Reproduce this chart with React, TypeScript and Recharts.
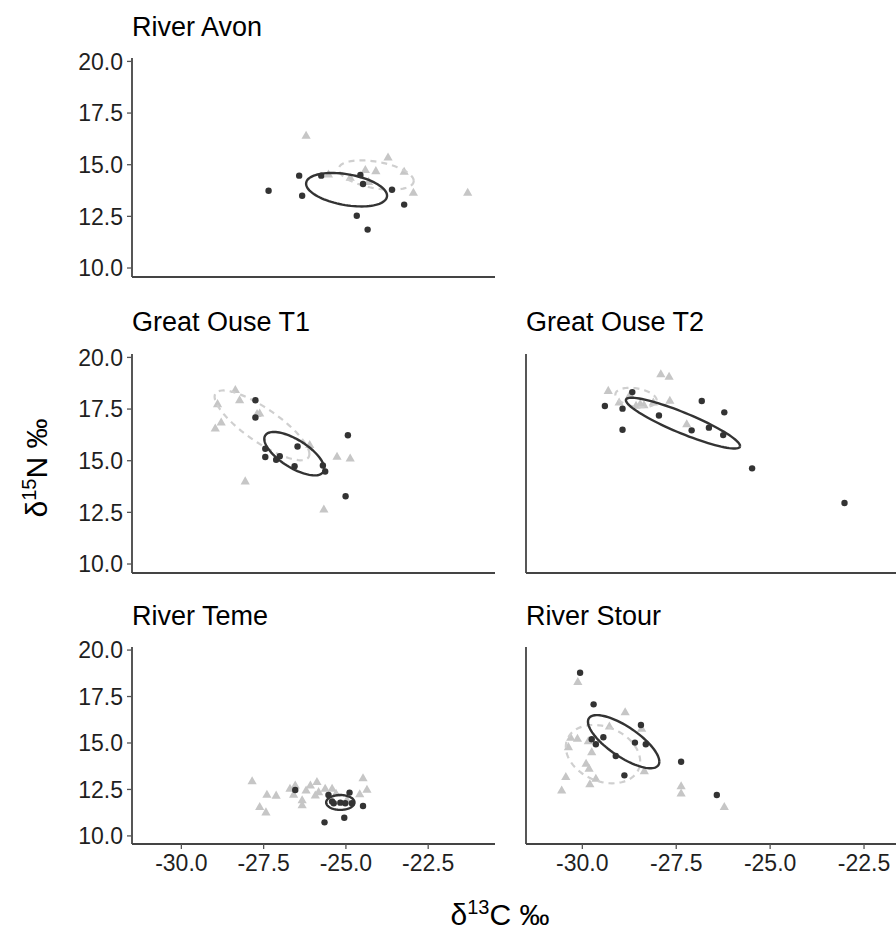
import React from "react";
import { ScatterChart, Scatter, XAxis, YAxis } from "recharts";

// values (d13C, d15N)
const avonFish: number[][] = [
  [-27.35, 13.74], [-26.42, 14.47], [-26.33, 13.5], [-25.75, 14.47], [-24.56, 14.5],
  [-24.48, 14.07], [-23.6, 13.79], [-23.23, 13.07], [-24.67, 12.53], [-24.34, 11.86],
];
const avonPrey: number[][] = [
  [-26.21, 16.42], [-23.72, 15.37], [-24.41, 14.76], [-24.09, 14.71], [-23.23, 14.68],
  [-24.87, 14.39], [-22.95, 13.66], [-21.3, 13.66], [-25.53, 14.55], [-24.31, 14.19],
];
const ouse1Fish: number[][] = [
  [-27.75, 17.93], [-27.75, 17.09], [-26.47, 15.69], [-27.45, 15.58], [-27.45, 15.18],
  [-27.12, 15.05], [-27.01, 15.22], [-26.56, 14.73], [-25.7, 14.77], [-25.63, 14.48],
  [-24.94, 16.23], [-25.01, 13.28],
];
const ouse1Prey: number[][] = [
  [-28.36, 18.44], [-28.23, 17.95], [-28.9, 17.76], [-28.79, 16.87], [-28.97, 16.58],
  [-27.7, 17.28], [-27.62, 17.31], [-26.1, 15.78], [-25.27, 15.21], [-24.87, 15.13],
  [-28.06, 14.02], [-25.67, 12.66],
];
const ouse2Fish: number[][] = [
  [-29.4, 17.65], [-28.93, 17.52], [-28.93, 16.5], [-28.67, 18.32], [-27.96, 17.19],
  [-26.82, 17.89], [-26.22, 17.34], [-27.09, 16.47], [-26.63, 16.6], [-26.25, 16.24],
  [-25.48, 14.63], [-23.02, 12.95],
];
const ouse2Prey: number[][] = [
  [-29.31, 18.4], [-27.91, 19.21], [-27.69, 19.08], [-29.02, 17.84], [-28.73, 18.21],
  [-28.57, 17.68], [-28.36, 17.71], [-27.67, 17.92], [-27.22, 16.79], [-28.46, 17.76],
  [-28.11, 17.84],
];
const temeFish: number[][] = [
  [-26.54, 12.47], [-25.53, 12.2], [-24.89, 12.33], [-25.37, 11.76], [-25.17, 11.79],
  [-25.02, 11.76], [-24.82, 11.76], [-24.48, 11.61], [-25.65, 10.73], [-25.05, 10.98],
  [-25.42, 11.85],
];
const temePrey: number[][] = [
  [-27.85, 12.96], [-27.4, 12.24], [-27.12, 12.19], [-27.62, 11.58], [-27.43, 11.29],
  [-26.54, 12.74], [-26.59, 12.24], [-26.33, 11.94], [-26.33, 11.67], [-26.08, 12.74],
  [-25.88, 12.92], [-25.83, 12.38], [-25.63, 12.56], [-25.42, 12.56], [-25.93, 12.2],
  [-25.3, 12.29], [-24.48, 13.13], [-24.36, 12.51], [-24.58, 12.26], [-26.21, 12.47],
  [-26.7, 12.56], [-24.97, 11.94],
];
const stourFish: number[][] = [
  [-30.06, 18.78], [-29.7, 17.08], [-29.75, 15.2], [-29.64, 14.93], [-29.44, 15.31],
  [-29.11, 14.3], [-28.88, 13.26], [-28.6, 15.02], [-28.31, 14.93], [-28.44, 15.97],
  [-27.37, 13.99], [-26.42, 12.2],
];
const stourPrey: number[][] = [
  [-30.12, 18.3], [-28.86, 16.68], [-29.28, 15.91], [-30.31, 15.31], [-30.13, 15.25],
  [-30.37, 14.8], [-29.84, 15.12], [-29.75, 14.53], [-29.9, 13.91], [-29.82, 13.64],
  [-30.44, 13.19], [-29.64, 13.1], [-29.8, 12.8], [-30.55, 12.47], [-28.42, 15.79],
  [-28.35, 13.51], [-27.37, 12.7], [-27.37, 12.3], [-26.22, 11.58],
];

// standard ellipses: centre, half-extent in x and y, tilt (rho)
const avonFishEll = { cx: -24.98, cy: 13.79, sx: 1.23, sy: 0.81, rho: -0.36 };
const avonPreyEll = { cx: -24.08, cy: 14.5, sx: 1.14, sy: 0.71, rho: -0.4 };
const ouse1FishEll = { cx: -26.57, cy: 15.34, sx: 0.91, sy: 1.05, rho: -0.68 };
const ouse1PreyEll = { cx: -27.55, cy: 16.71, sx: 1.44, sy: 1.69, rho: -0.82 };
const ouse2FishEll = { cx: -27.32, cy: 16.82, sx: 1.52, sy: 1.23, rho: -0.9 };
const ouse2PreyEll = { cx: -28.57, cy: 18.06, sx: 0.55, sy: 0.47, rho: -0.3 };
const temeFishEll = { cx: -25.17, cy: 11.8, sx: 0.43, sy: 0.4, rho: 0.0 };
const stourFishEll = { cx: -28.9, cy: 15.07, sx: 0.95, sy: 1.43, rho: -0.75 };
const stourPreyEll = { cx: -29.45, cy: 14.4, sx: 0.99, sy: 1.57, rho: -0.25 };

const xTicks = [-30, -27.5, -25, -22.5];
const yTicks = [10, 12.5, 15, 17.5, 20];

type Ell = { cx: number; cy: number; sx: number; sy: number; rho: number };

const toPts = (arr: number[][]) => arr.map(([x, y]) => ({ x, y }));

function outline(e: Ell) {
  const pts = [];
  const k = Math.sqrt(1 - e.rho * e.rho);
  for (let i = 0; i <= 90; i++) {
    const t = (i / 90) * Math.PI * 2;
    pts.push({
      x: e.cx + e.sx * Math.cos(t),
      y: e.cy + e.sy * (e.rho * Math.cos(t) + k * Math.sin(t)),
    });
  }
  return pts;
}

const FONT = "'Liberation Sans', Arial, Helvetica, sans-serif";
const INK = "#333333";
const PREY = "#c6c6c6";

const Dot = (p: any) => <circle cx={p.cx} cy={p.cy} r={3.2} fill={INK} />;
const Tri = (p: any) => {
  const s = 4.6;
  return (
    <polygon
      points={`${p.cx},${p.cy - s} ${p.cx - s},${p.cy + s * 0.75} ${p.cx + s},${p.cy + s * 0.75}`}
      fill={PREY}
    />
  );
};
const Nothing = () => <g />;

interface PanelProps {
  title: string;
  left: number;
  top: number;
  width: number;
  height: number;
  xDomain: [number, number];
  fish: number[][];
  prey: number[][];
  fishEll?: Ell;
  preyEll?: Ell;
  xLabels: boolean;
  yLabels: boolean;
}

const YW = 60;
const XH = 40;
const MT = 10;

function Panel(p: PanelProps) {
  const tickStyle = { fontSize: 23, fill: "#1f1f1f", fontFamily: FONT };
  return (
    <div style={{ position: "absolute", left: p.left - YW, top: p.top - MT }}>
      <ScatterChart
        width={YW + p.width}
        height={MT + p.height + XH}
        margin={{ top: MT, right: 0, bottom: 0, left: 0 }}
      >
        <XAxis
          type="number"
          dataKey="x"
          domain={p.xDomain}
          allowDataOverflow
          ticks={xTicks}
          tickFormatter={(v: number) => v.toFixed(1)}
          tick={p.xLabels ? tickStyle : false}
          height={XH}
          tickSize={5}
          tickMargin={6}
          axisLine={{ stroke: "#444", strokeWidth: 1.8 }}
          tickLine={{ stroke: "#555", strokeWidth: 1.3 }}
        />
        <YAxis
          type="number"
          dataKey="y"
          domain={[9.565, 20.165]}
          allowDataOverflow
          ticks={yTicks}
          tickFormatter={(v: number) => v.toFixed(1)}
          tick={p.yLabels ? tickStyle : false}
          width={YW}
          tickSize={5}
          tickMargin={4}
          axisLine={{ stroke: "#444", strokeWidth: 1.8 }}
          tickLine={{ stroke: "#555", strokeWidth: 1.3 }}
        />
        <Scatter data={toPts(p.prey)} shape={Tri} isAnimationActive={false} />
        {p.preyEll && (
          <Scatter
            data={outline(p.preyEll)}
            shape={Nothing}
            line={{ stroke: "#cfcfcf", strokeWidth: 2.2, strokeDasharray: "6 5" }}
            isAnimationActive={false}
          />
        )}
        <Scatter data={toPts(p.fish)} shape={Dot} isAnimationActive={false} />
        {p.fishEll && (
          <Scatter
            data={outline(p.fishEll)}
            shape={Nothing}
            line={{ stroke: INK, strokeWidth: 2.4 }}
            isAnimationActive={false}
          />
        )}
      </ScatterChart>
    </div>
  );
}

const LEFT_X: [number, number] = [-31.5, -20.47];
const RIGHT_X: [number, number] = [-31.5, -20.85];

export default function App() {
  const titleStyle = { fontSize: 27, fill: "#000", fontFamily: FONT };
  return (
    <div
      style={{
        position: "absolute",
        left: 0,
        top: 0,
        width: 896,
        height: 933,
        overflow: "hidden",
        background: "#fff",
      }}
    >
      <Panel title="River Avon" left={132} top={58.3} width={363} height={219}
        xDomain={LEFT_X} fish={avonFish} prey={avonPrey}
        fishEll={avonFishEll} preyEll={avonPreyEll} xLabels={false} yLabels />
      <Panel title="Great Ouse T1" left={132} top={353.6} width={363} height={219}
        xDomain={LEFT_X} fish={ouse1Fish} prey={ouse1Prey}
        fishEll={ouse1FishEll} preyEll={ouse1PreyEll} xLabels={false} yLabels />
      <Panel title="Great Ouse T2" left={526} top={353.6} width={400} height={219}
        xDomain={RIGHT_X} fish={ouse2Fish} prey={ouse2Prey}
        fishEll={ouse2FishEll} preyEll={ouse2PreyEll} xLabels={false} yLabels={false} />
      <Panel title="River Teme" left={132} top={647} width={363} height={197}
        xDomain={LEFT_X} fish={temeFish} prey={temePrey}
        fishEll={temeFishEll} xLabels yLabels />
      <Panel title="River Stour" left={526} top={647} width={400} height={197}
        xDomain={RIGHT_X} fish={stourFish} prey={stourPrey}
        fishEll={stourFishEll} preyEll={stourPreyEll} xLabels yLabels={false} />

      <svg width={896} height={933} style={{ position: "absolute", left: 0, top: 0, pointerEvents: "none" }}>
        <text x={132} y={36} style={titleStyle}>River Avon</text>
        <text x={132} y={331.4} style={titleStyle}>Great Ouse T1</text>
        <text x={526} y={331.4} style={titleStyle}>Great Ouse T2</text>
        <text x={132} y={625} style={titleStyle}>River Teme</text>
        <text x={526} y={625} style={titleStyle}>River Stour</text>

        <text x={500} y={925} textAnchor="middle" style={{ fontSize: 30, fill: "#000", fontFamily: FONT }}>
          <tspan>δ</tspan>
          <tspan fontSize={20} dy={-11}>13</tspan>
          <tspan dy={11}>C ‰</tspan>
        </text>
        <text
          x={0}
          y={0}
          textAnchor="middle"
          transform="translate(47,468) rotate(-90)"
          style={{ fontSize: 30, fill: "#000", fontFamily: FONT }}
        >
          <tspan>δ</tspan>
          <tspan fontSize={20} dy={-11}>15</tspan>
          <tspan dy={11}>N ‰</tspan>
        </text>
      </svg>
    </div>
  );
}
